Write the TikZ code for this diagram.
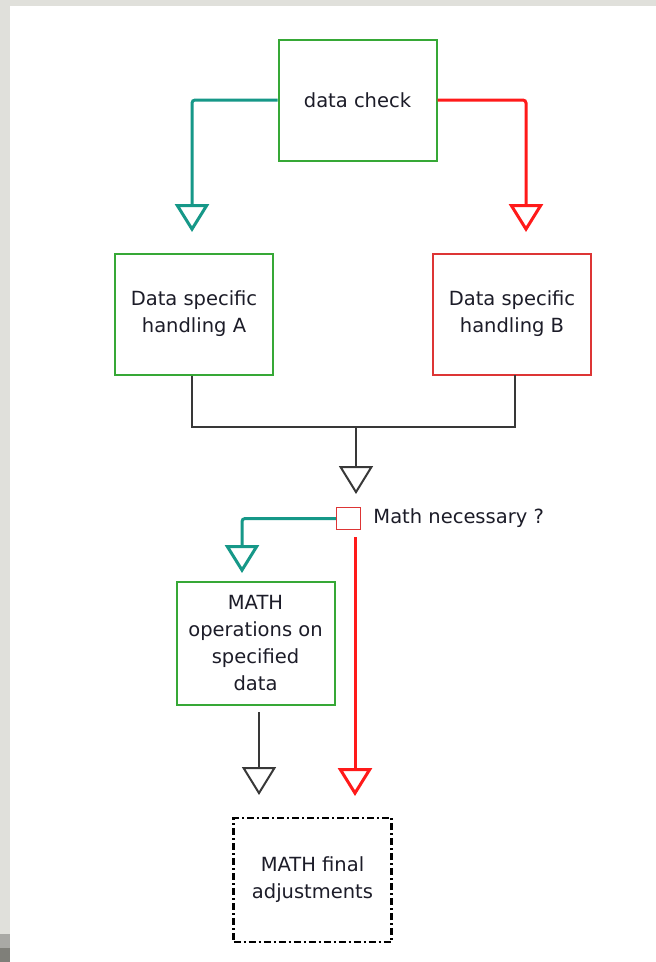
\documentclass[tikz,border=0pt]{standalone}
\usepackage{fontspec}
\setmainfont{DejaVu Sans}
\usetikzlibrary{arrows.meta,calc}
\definecolor{boxgreen}{HTML}{36A836}
\definecolor{boxred}{HTML}{DD3535}
\definecolor{flowteal}{HTML}{169888}
\definecolor{flowred}{HTML}{FF1A1A}
\definecolor{flowblack}{HTML}{383838}
\definecolor{pagegray}{HTML}{E0E0DB}
\definecolor{stripmid}{HTML}{A9A9A5}
\definecolor{stripdark}{HTML}{7F7F79}
\definecolor{txt}{HTML}{1C1C28}
\begin{document}
\begin{tikzpicture}[x=1pt,y=-1pt,
  box/.style={draw, line width=2pt, minimum width=158pt, minimum height=121pt,
    inner sep=0pt, align=center, text=txt, font=\fontsize{19.5}{27}\selectfont},
  greenbox/.style={box, draw=boxgreen},
  redbox/.style={box, draw=boxred},
  finalbox/.style={box, draw=black, line width=2.5pt,
    dash pattern=on 7pt off 3pt on 2pt off 3pt},
  tealflow/.style={draw=flowteal, line width=3pt, rounded corners=3pt},
  redflow/.style={draw=flowred, line width=3pt, rounded corners=3pt},
  blackflow/.style={draw=flowblack, line width=2pt},
  opentip/.style={-{Triangle[open, length=28pt, width=34pt]}},
  lbl/.style={text=txt, font=\fontsize{19.5}{27}\selectfont, inner sep=0pt}
]
% page background
\fill[pagegray] (0,0) rectangle (656,962);
\fill[white] (10,6) rectangle (656,962);
\fill[stripmid] (0,934) rectangle (10,948);
\fill[stripdark] (0,948) rectangle (10,962);
\useasboundingbox (0,0) rectangle (656,962);

% boxes
\node[greenbox] (check) at (357.5,100) {data check};
\node[greenbox] (A) at (194,314) {Data specific\\handling A};
\node[redbox] (B) at (512,314) {Data specific\\handling B};
\node[greenbox, minimum height=123pt] (mathop) at (255.5,643.5) {MATH\\operations on\\specified\\data};
\node[finalbox, minimum height=124pt] (final) at (312.5,880) {MATH final\\adjustments};

% decision marker
\node[draw=boxred, line width=1.5pt, minimum width=24pt, minimum height=22pt, inner sep=0pt] (q) at (348.5,518.5) {};
\node[lbl, anchor=west] (qlabel) at ([xshift=12pt]q.east) {Math necessary ?};

% connector end points
\coordinate (aIn) at (192,253);
\coordinate (bIn) at (526,253);
\coordinate (bOut) at (515,375);
\coordinate (j) at (356,427);
\coordinate (qIn) at (356,507);
\coordinate (mIn) at (242,582);
\coordinate (fL) at (259,818);
\coordinate (fR) at (355,818);

% connectors
\draw[tealflow, opentip, shorten >=21pt] (check.west) -| (aIn);
\draw[redflow, opentip, shorten >=21pt] (check.east) -| (bIn);
\draw[blackflow] (A.south -| aIn) |- (j) -| (bOut);
\draw[blackflow, opentip, shorten >=13pt] (j) -- (qIn);
\draw[tealflow, opentip, shorten >=9pt] (q.west) -| (mIn);
\draw[redflow, opentip, shorten <=7pt, shorten >=22pt] (q.south -| fR) -- (fR);
\draw[blackflow, opentip, shorten <=6pt, shorten >=23pt] (mathop.south -| fL) -- (fL);
\end{tikzpicture}
\end{document}
